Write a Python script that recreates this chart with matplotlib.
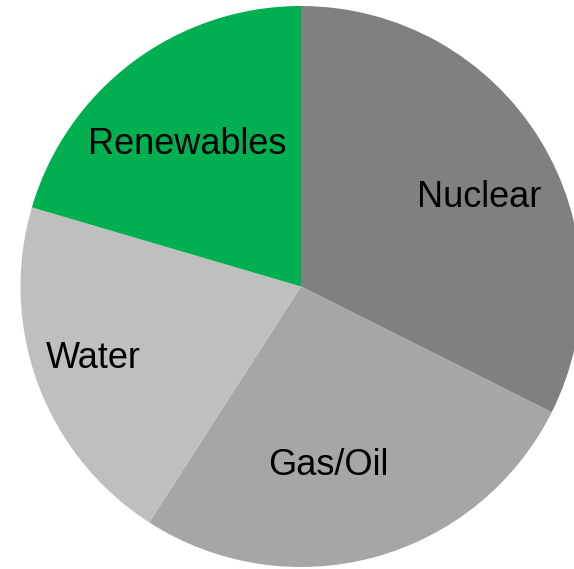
import matplotlib.pyplot as plt

labels = ['Nuclear', 'Gas/Oil', 'Water', 'Renewables']
shares = [32.4, 26.7, 20.45, 20.45]
colors = ['#808080', '#a6a6a6', '#bfbfbf', '#00b050']

# label anchor points in pixels (x, baseline y from top)
label_pos = [(479.5, 207), (328, 475), (93, 368), (187, 154)]

W, H = 574, 569
fig = plt.figure(figsize=(W / 100, H / 100), dpi=100)
ax = fig.add_axes([0, 0, 1, 1])

ax.pie(shares, colors=colors, startangle=90, counterclock=False,
       radius=280.5, center=(301, H - 286.5),
       wedgeprops=dict(linewidth=0))

for name, (x, y) in zip(labels, label_pos):
    ax.text(x, H - y, name, ha='center', va='baseline',
            fontsize=26, family='Liberation Sans', color='black')

ax.set_xlim(0, W)
ax.set_ylim(0, H)
ax.set_aspect('auto')
ax.axis('off')

plt.savefig('out.png', dpi=100)
